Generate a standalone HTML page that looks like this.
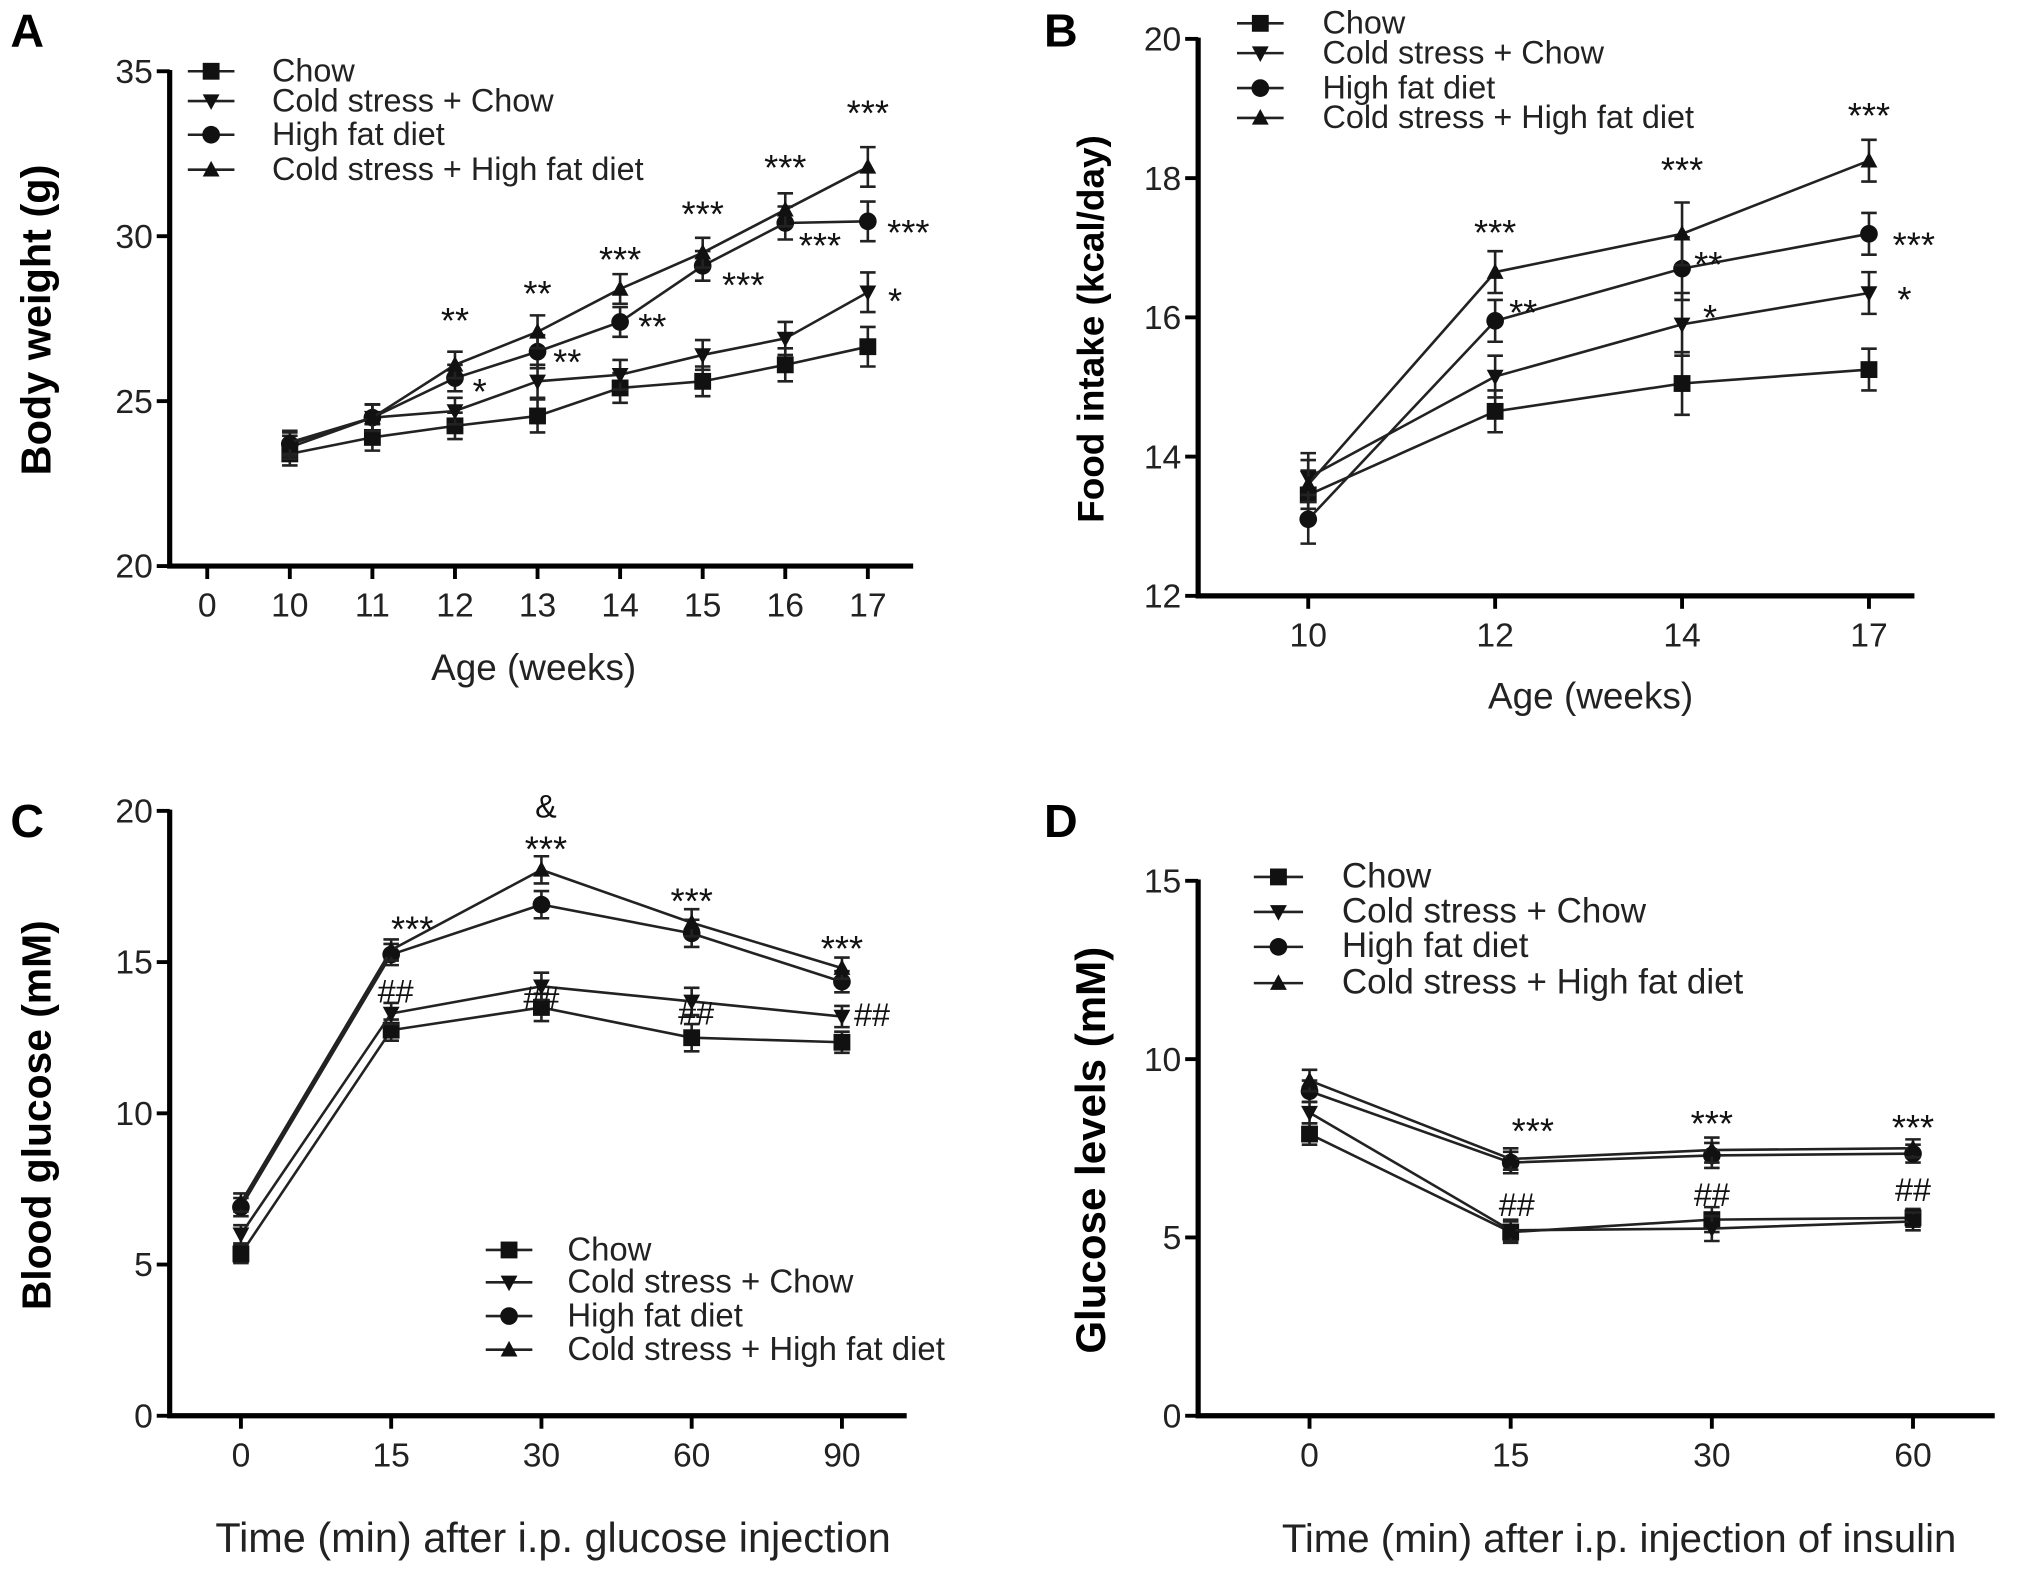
<!DOCTYPE html>
<html><head><meta charset="utf-8"><style>
html,body{margin:0;padding:0;background:#fff;}
svg{display:block;font-family:"Liberation Sans",Arial,sans-serif;}
</style></head><body>
<svg id="fig" width="2031" height="1572" viewBox="0 0 1568 1213.6" xmlns="http://www.w3.org/2000/svg"></svg>
<script>
const seriesNames = ["Chow","Cold stress + Chow","High fat diet","Cold stress + High fat diet"];
const markers = ["square","tridown","circle","triup"];

// Panel A
const catsA = ["0","10","11","12","13","14","15","16","17"];
const chowA   = [null,23.4,23.9,24.25,24.55,25.4,25.6,26.1,26.65];
const csChowA = [null,23.6,24.5,24.7,25.6,25.8,26.4,26.9,28.3];
const hfdA    = [null,23.7,24.5,25.7,26.5,27.4,29.1,30.4,30.45];
const csHfdA  = [null,23.75,24.5,26.1,27.1,28.4,29.5,30.8,32.1];
const errA    = [null,0.35,0.4,0.4,0.5,0.45,0.45,0.5,0.6];
const ticksA  = [20,25,30,35];
const annA = [["**",3,27.58],["*",3.3,25.42],["**",4,28.4],["**",4.36,26.32],["***",5,29.42],["**",5.39,27.4],["***",6,30.8],["***",6.49,28.65],["***",7,32.21],["***",7.42,29.85],["***",8,33.86],["***",8.49,30.25],["*",8.33,28.17]];

// Panel B
const catsB = ["10","12","14","17"];
const chowB   = [13.45,14.65,15.05,15.25];
const csChowB = [13.7,15.15,15.9,16.35];
const hfdB    = [13.1,15.95,16.7,17.2];
const csHfdB  = [13.6,16.65,17.2,18.25];
const errB    = [0.35,0.3,0.45,0.3];
const ticksB  = [12,14,16,18,20];
const annB = [["***",1,17.28],["**",1.15,16.13],["***",2,18.18],["**",2.14,16.82],["*",2.15,16.06],["***",3,18.96],["***",3.24,17.1],["*",3.19,16.32]];

// Panel C
const catsC = ["0","15","30","60","90"];
const chowC   = [5.35,12.75,13.5,12.5,12.35];
const csChowC = [6.0,13.3,14.2,13.7,13.2];
const hfdC    = [6.9,15.25,16.9,15.95,14.35];
const csHfdC  = [7.05,15.4,18.05,16.3,14.8];
const errC    = [0.3,0.35,0.45,0.45,0.35];
const ticksC  = [0,5,10,15,20];
const annC = [["***",1.14,16.23],["##",1.03,14.09],["&",2.03,20.21],["***",2.03,18.89],["##",2.0,13.88],["***",3,17.17],["##",3.03,13.36],["***",4,15.59],["##",4.2,13.32]];

// Panel D
const catsD = ["0","15","30","60"];
const chowD   = [7.9,5.15,5.5,5.55];
const csChowD = [8.5,5.2,5.25,5.45];
const hfdD    = [9.1,7.1,7.3,7.35];
const csHfdD  = [9.4,7.2,7.45,7.5];
const errD    = [0.3,0.3,0.35,0.25];
const ticksD  = [0,5,10,15];
const annD = [["***",1.11,8.1],["##",1.03,5.96],["***",2,8.32],["##",2,6.25],["***",3,8.21],["##",3,6.39]];

const NS="http://www.w3.org/2000/svg";
const svg=document.getElementById('fig');
function el(tag,attrs,parent,text){const e=document.createElementNS(NS,tag);for(const k in attrs)e.setAttribute(k,attrs[k]);if(text!==undefined)e.textContent=text;(parent||svg).appendChild(e);return e;}

function marker(g,type,x,y,r){
  if(type==="square") return el('rect',{x:x-r,y:y-r,width:2*r,height:2*r,fill:'#111'},g);
  if(type==="circle") return el('circle',{cx:x,cy:y,r:r*1.05,fill:'#111'},g);
  if(type==="triup") return el('polygon',{points:`${x-r},${y+r*0.8} ${x+r},${y+r*0.8} ${x},${y-r*1.05}`,fill:'#111'},g);
  return el('polygon',{points:`${x-r},${y-r*0.8} ${x+r},${y-r*0.8} ${x},${y+r*1.05}`,fill:'#111'},g);
}

function panel(cfg){
  const g=el('g',{});
  
  
  const {x0,x1,yTop,yBot,ymin,ymax,cx0,cdx}=cfg;
  const yS=v=>yBot-(v-ymin)/(ymax-ymin)*(yBot-yTop);
  const xS=i=>cx0+i*cdx;
  const L=el('text',{x:cfg.lx,y:cfg.ly,'font-size':36,'font-weight':'bold'},g,cfg.letter);
  
  const ax=el('path',{d:`M${x0},${yTop-1}V${yBot}H${x1}`,stroke:'#000','stroke-width':4,fill:'none'},g);
  
  cfg.ticks.forEach(t=>{
    const y=yS(t);
    el('line',{x1:x0-10,x2:x0,y1:y,y2:y,stroke:'#000','stroke-width':3},g);
    const tl=el('text',{x:x0-13,y:y+9,'font-size':26,'text-anchor':'end',fill:'#222'},g,t);
    
  });
  cfg.cats.forEach((c,i)=>{
    const x=xS(i);
    el('line',{x1:x,x2:x,y1:yBot,y2:yBot+10,stroke:'#000','stroke-width':3},g);
    const tl=el('text',{x:x,y:yBot+39,'font-size':26,'text-anchor':'middle',fill:'#222'},g,c);
    
  });
  const yt=el('text',{x:0,y:0,'font-size':cfg.ytfs,'font-weight':'bold','text-anchor':'middle',transform:`translate(${cfg.ytx},${cfg.yty}) rotate(-90)`},g,cfg.ytitle);
  
  const xt=el('text',{x:cfg.xtx,y:cfg.xty,'font-size':cfg.xtfs,'text-anchor':'middle',fill:'#222'},g,cfg.xtitle);
  
  cfg.series.forEach((vals,s)=>{
    const sg=el('g',{},g);
    
    
    let d='';
    vals.forEach((v,i)=>{if(v==null)return;d+=(d?'L':'M')+xS(i)+','+yS(v);});
    el('path',{d:d,stroke:'#222','stroke-width':2,fill:'none'},sg);
    vals.forEach((v,i)=>{
      if(v==null)return;
      const e=cfg.err[i],x=xS(i);
      el('path',{d:`M${x},${yS(v-e)}V${yS(v+e)}M${x-6},${yS(v-e)}H${x+6}M${x-6},${yS(v+e)}H${x+6}`,stroke:'#222','stroke-width':2,fill:'none'},sg);
      const m=marker(sg,markers[s],x,yS(v),6.5);
      
    });
  });
  cfg.ann.forEach(a=>{
    const star=a[0].indexOf('*')>=0;
    const t=el('text',{x:xS(a[1]),y:yS(a[2])+(star?13:10),'font-size':star?28:25,'text-anchor':'middle',fill:'#111'},g,a[0]);
    
  });
  const lg=el('g',{},g);
  
  cfg.legRows.forEach((ry,s)=>{
    const eg=el('g',{},lg);
    
    el('line',{x1:cfg.legX,x2:cfg.legX+cfg.legW,y1:ry,y2:ry,stroke:'#222','stroke-width':2},eg);
    marker(eg,markers[s],cfg.legX+cfg.legW/2,ry,6.5);
    el('text',{x:cfg.legTX,y:ry+8,'font-size':cfg.legFS,fill:'#222'},eg,seriesNames[s]);
  });
}

panel({name:'panel-a-body-weight',letter:'A',lx:8,ly:36,x0:131,x1:705,yTop:55,yBot:437,ymin:20,ymax:35,cx0:160,cdx:63.75,
  cats:catsA,ticks:ticksA,series:[chowA,csChowA,hfdA,csHfdA],err:errA,ann:annA,
  ytitle:'Body weight (g)',ytx:39,yty:247,ytfs:32,xtitle:'Age (weeks)',xtx:412,xty:525,xtfs:28.5,
  legX:145,legW:36,legTX:210,legFS:25,legRows:[55,78,104,131]});
panel({name:'panel-b-food-intake',letter:'B',lx:806,ly:36,x0:925,x1:1478,yTop:30,yBot:460,ymin:12,ymax:20,cx0:1010,cdx:144.3,
  cats:catsB,ticks:ticksB,series:[chowB,csChowB,hfdB,csHfdB],err:errB,ann:annB,
  ytitle:'Food intake (kcal/day)',ytx:852,yty:254,ytfs:28.5,xtitle:'Age (weeks)',xtx:1228,xty:547,xtfs:28.5,
  legX:955,legW:36,legTX:1021,legFS:25,legRows:[18,41,68,91]});
panel({name:'panel-c-blood-glucose',letter:'C',lx:8,ly:646,x0:131,x1:700,yTop:626,yBot:1093,ymin:0,ymax:20,cx0:186,cdx:116,
  cats:catsC,ticks:ticksC,series:[chowC,csChowC,hfdC,csHfdC],err:errC,ann:annC,
  ytitle:'Blood glucose (mM)',ytx:39,yty:861,ytfs:31.5,xtitle:'Time (min) after i.p. glucose injection',xtx:427,xty:1198,xtfs:32,
  legX:375,legW:36,legTX:438,legFS:25.4,legRows:[965,990,1016,1042]});
panel({name:'panel-d-glucose-levels',letter:'D',lx:806,ly:646,x0:925,x1:1540,yTop:680,yBot:1093,ymin:0,ymax:15,cx0:1011,cdx:155.3,
  cats:catsD,ticks:ticksD,series:[chowD,csChowD,hfdD,csHfdD],err:errD,ann:annD,
  ytitle:'Glucose levels (mM)',ytx:853,yty:888,ytfs:32.5,xtitle:'Time (min) after i.p. injection of insulin',xtx:1250,xty:1198,xtfs:31,
  legX:968,legW:38,legTX:1036,legFS:27,legRows:[677,704,731,759]});
</script>
</body></html>
